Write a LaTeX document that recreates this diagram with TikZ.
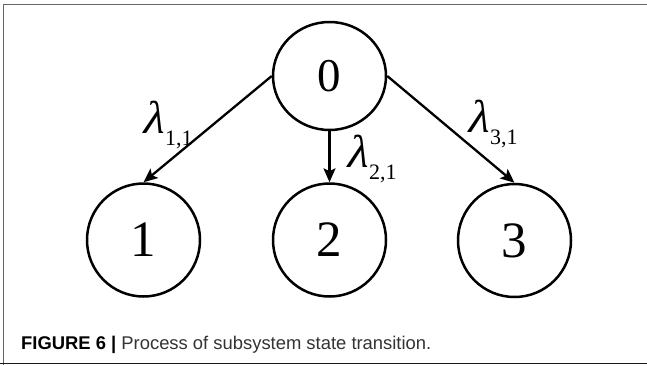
\documentclass[tikz,border=0pt]{standalone}
\usepackage{fontspec}
\setmainfont{Liberation Serif}
\newfontfamily\capfont{Liberation Sans}
\newfontfamily\lamfont[FakeSlant=0.22]{Liberation Serif}
\usetikzlibrary{arrows.meta,shapes.geometric}

\tikzset{
  state/.style={ellipse, draw, line width=2.5pt, inner sep=0pt,
    minimum width=113pt, minimum height=113pt,
    font=\fontsize{51}{51}\selectfont},
  trans/.style={line width=2.3pt,
    -{Stealth[length=14pt,width=12pt,inset=3pt]}},
  rate/.style={anchor=base west, inner sep=0pt,
    font=\fontsize{46}{46}\selectfont},
  frameline/.style={line width=1.5pt, draw=black!60},
}
% rate symbol with its subscript pair set below the baseline
\newcommand{\rate}[1]{{\lamfont λ}\kern1.5pt\raisebox{-12pt}{\fontsize{22}{22}\selectfont #1}}

\begin{document}
\begin{tikzpicture}[x=1pt,y=-1pt]
  \useasboundingbox (0,0) rectangle (647,365);

  % panel frame
  \draw[frameline] (3.5,365) -- (3.5,4.5) -- (647,4.5);
  \draw[line width=1.3pt, black!90] (0,363.5) -- (647,363.5);

  % states
  \node[state, minimum height=108pt, font=\fontsize{47}{47}\selectfont] (s0) at (329.5,76) {0};
  \node[state] (s1) at (143.5,240) {1};
  \node[state] (s2) at (329.5,240) {2};
  \node[state] (s3) at (514.5,240.5) {3};

  % transitions
  \draw[trans] (s0.west) -- (s1.north);
  \draw[trans] (s0.south) -- (s2.north);
  \draw[trans] (s0.east) -- (s3.north);

  % transition rates
  \node[rate] (r1) at (141,133) {\rate{1,1}};
  \node[rate] (r2) at (345,167) {\rate{2,1}};
  \node[rate] (r3) at (466,132) {\rate{3,1}};

  % caption
  \node[anchor=base west, inner sep=0pt, font=\capfont\fontsize{18.4}{20}\selectfont]
    (cap) at (21,349) {\textbf{FIGURE 6 |} \textcolor{black!80}{Process of subsystem state transition.}};
\end{tikzpicture}
\end{document}
